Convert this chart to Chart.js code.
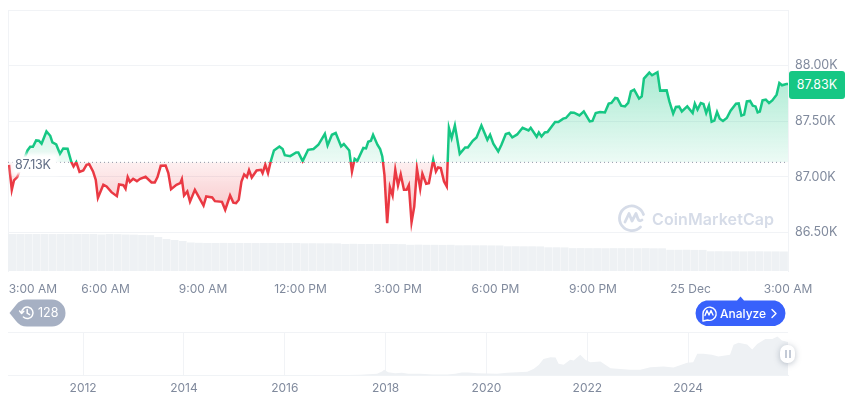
<!DOCTYPE html>
<html>
<head>
<meta charset="utf-8">
<script src="https://cdn.jsdelivr.net/npm/chart.js@4"></script>
<style>
  html, body { margin: 0; padding: 0; background: #fff; }
  body { width: 860px; height: 401px; position: relative; overflow: hidden; font-family: Inter, sans-serif; }
  canvas { position: absolute; left: 0; }
  .abs { position: absolute; white-space: nowrap; }
  #baseLabel { left: 15px; top: 157px; height: 15px; line-height: 15px; padding-right: 4px; font-size: 12.5px; letter-spacing: -0.2px; color: #616e85; background: #fff; box-shadow: 0 0 4px 3px #fff; }
  #lastBadge { left: 789px; top: 71px; width: 56px; height: 28px; line-height: 28px; text-align: center; font-size: 12.5px; color: #fff; background: #16c784; border-radius: 3px; }
  #watermark { left: 652px; top: 208px; font-size: 16px; line-height: 22px; font-weight: 600; letter-spacing: 0.1px; color: #d6dce8; }
  #handle { left: 780px; top: 345px; width: 15px; height: 18px; background: #fff; border-radius: 7px; box-shadow: 0 1px 6px rgba(88,102,126,.4); }
  #handle i { position: absolute; top: 5px; width: 2px; height: 8px; background: #c3cad6; }
</style>
</head>
<body>
<canvas id="mainChart" style="top:0;width:860px;height:300px"></canvas>
<canvas id="navChart" style="top:325px;width:860px;height:76px"></canvas>

<div class="abs" id="baseLabel">87.13K</div>
<div class="abs" id="lastBadge">87.83K</div>

<svg class="abs" style="left:617px;top:203px" width="30" height="30" viewBox="0 0 30 30" fill="none" stroke="#d6dce8" stroke-width="2.8" stroke-linecap="round" stroke-linejoin="round">
  <path d="M26.5 11.5 A12.3 12.3 0 1 0 23.5 24"/>
  <path d="M8 19 L12 10.5 L15 18 L19 10.5 L21 16 Q22.5 19 25 17"/>
</svg>
<div class="abs" id="watermark">CoinMarketCap</div>

<svg class="abs" style="left:8px;top:298px" width="60" height="30" viewBox="0 0 60 30">
  <path d="M1.5 15 L8 7 Q12 1.5 19 1.5 L44 1.5 A13.5 13.5 0 0 1 44 28.5 L19 28.5 Q12 28.5 8 23 Z" fill="#a6b0c3"/>
  <g fill="none" stroke="#fff" stroke-width="1.5" stroke-linecap="round" stroke-linejoin="round">
    <path d="M13.6 15 A5.7 5.7 0 1 1 15.4 19"/>
    <path d="M11.6 13 L13.6 15.4 L15.8 13.2"/>
    <path d="M19.2 11.5 L19.2 15.2 L21.6 16.6"/>
  </g>
  <text x="30" y="19.4" font-family="Inter, sans-serif" font-size="12.5" fill="#fff">128</text>
</svg>

<svg class="abs" style="left:692px;top:295px" width="97" height="32" viewBox="0 0 97 32">
  <path d="M14 5.5 L45 5.5 L48.5 1.5 L52 5.5 L83 5.5 A13 13 0 0 1 83 31 L14 31 A13 13 0 0 1 14 5.5 Z" fill="#3861fb"/>
  <g fill="none" stroke="#fff" stroke-width="1.4" stroke-linecap="round" stroke-linejoin="round">
    <path d="M11 26 L11 18.5 A6.6 6.6 0 1 1 15.5 25 L11 26"/>
    <path d="M13 20.5 L15 15.5 L17 20 L19 15.5 L21 20"/>
    <path d="M80 14.5 L84 18.5 L80 22.5"/>
  </g>
  <text x="28" y="22.8" font-family="Inter, sans-serif" font-size="12" font-weight="500" fill="#fff">Analyze</text>
</svg>

<div class="abs" id="handle"><i style="left:5px"></i><i style="left:9px"></i></div>

<script>
// minutes since 3:00 AM
const priceMinutes = [2,7,11,17,36,41,46,52,57,62,71,78,82,89,96,102,110,117,121,126,132,139,145,150,157,162,166,176,182,191,201,205,213,217,221,225,231,238,244,254,265,271,276,282,291,296,301,311,318,321,325,331,336,345,361,366,377,382,395,401,410,416,421,426,431,436,441,445,450,459,467,470,475,480,485,491,501,507,511,521,532,536,544,554,564,573,585,590,598,605,615,620,630,635,640,645,656,661,665,670,674,682,687,691,695,700,705,710,715,720,725,731,736,740,745,750,755,761,765,772,777,785,790,794,799,805,810,814,819,825,834,844,849,858,865,874,885,890,896,905,911,919,925,931,940,950,961,965,976,980,985,991,996,1010,1016,1025,1030,1039,1045,1055,1063,1074,1079,1085,1093,1102,1109,1114,1121,1125,1132,1139,1145,1150,1156,1165,1170,1174,1184,1189,1199,1204,1216,1221,1228,1233,1239,1244,1254,1264,1268,1273,1279,1284,1289,1294,1299,1304,1309,1314,1320,1327,1334,1344,1349,1354,1359,1364,1370,1375,1380,1384,1388,1393,1399,1405,1411,1419,1424,1429,1437,1440];
const priceValues = [87.108,86.883,86.967,86.997,87.237,87.270,87.270,87.327,87.324,87.297,87.408,87.369,87.309,87.291,87.207,87.255,87.252,87.132,87.093,87.132,87.045,87.057,87.108,87.114,87.048,86.973,86.811,86.928,86.913,86.862,86.826,86.931,86.925,86.892,86.997,86.955,86.982,86.961,86.982,87.000,86.949,86.949,86.997,87.099,87.102,87.033,86.889,86.928,86.943,86.979,86.832,86.868,86.777,86.883,86.741,86.823,86.814,86.781,86.775,86.703,86.832,86.768,86.763,86.793,86.958,87.021,86.997,87.060,86.994,87.057,87.063,87.033,87.108,87.033,87.138,87.237,87.273,87.250,87.195,87.186,87.219,87.219,87.141,87.243,87.250,87.288,87.387,87.282,87.378,87.394,87.273,87.295,87.237,87.048,87.162,87.144,87.259,87.255,87.315,87.324,87.378,87.288,87.250,87.183,87.018,86.583,86.907,86.832,87.063,86.922,87.021,86.883,86.883,86.925,86.592,86.732,87.072,86.892,87.027,86.937,86.943,87.153,87.048,87.084,87.078,86.958,86.913,87.439,87.349,87.462,87.207,87.264,87.264,87.324,87.354,87.462,87.333,87.378,87.297,87.228,87.288,87.385,87.394,87.354,87.381,87.441,87.417,87.441,87.360,87.399,87.363,87.399,87.403,87.493,87.493,87.523,87.529,87.579,87.577,87.552,87.588,87.498,87.502,87.574,87.583,87.579,87.658,87.664,87.709,87.705,87.640,87.633,87.664,87.768,87.784,87.703,87.723,87.883,87.937,87.913,87.940,87.775,87.777,87.678,87.568,87.628,87.631,87.588,87.633,87.574,87.658,87.604,87.664,87.655,87.574,87.640,87.495,87.505,87.583,87.523,87.502,87.529,87.595,87.658,87.660,87.550,87.559,87.678,87.682,87.640,87.633,87.579,87.586,87.687,87.694,87.664,87.687,87.739,87.844,87.823,87.835,87.835];
const basePrice = 87.13;

// one bar per 15 minutes
const volumeValues = [44.4,44.4,44.4,44.4,44.4,44.3,44.4,44.4,44.4,44.4,44.4,43.8,44.4,44.2,43.8,43.6,43.2,43.0,40.8,38.4,37.2,36.0,34.2,33.8,33.6,33.6,33.7,33.6,33.6,33.6,33.5,33.6,33.6,33.5,33.6,33.6,33.2,33.3,33.2,33.2,33.1,32.4,32.6,32.4,32.4,32.3,32.4,32.4,32.2,31.4,31.6,31.4,31.4,31.3,31.4,30.8,30.9,30.8,30.8,30.7,30.6,29.6,29.7,29.6,29.6,29.5,28.4,28.4,28.3,27.4,27.5,27.4,27.4,27.3,27.4,27.4,27.4,27.3,27.4,27.2,27.2,25.4,25.4,25.5,25.3,25.3,23.6,23.7,23.6,23.6,23.5,23.6,23.6,23.5,23.5,23.4];

const priceTicks = [86.5, 87, 87.5, 88, 88.5];
const timeTickMinutes = [46, 180, 360, 540, 720, 900, 1080, 1260, 1440]; // first label sits inside the edge
const timeTickLabels = ["3:00 AM", "6:00 AM", "9:00 AM", "12:00 PM", "3:00 PM", "6:00 PM", "9:00 PM", "25 Dec", "3:00 AM"];

// long range strip: year, price in thousands
const navYears = [2010.51,2012,2014,2015.91,2016.56,2017.24,2017.5,2017.83,2017.93,2017.97,2018.05,2018.19,2018.32,2018.45,2018.69,2018.94,2019.22,2019.38,2019.51,2019.64,2019.81,2020.01,2020.21,2020.41,2020.61,2020.81,2020.94,2021.04,2021.13,2021.27,2021.37,2021.43,2021.53,2021.66,2021.73,2021.86,2021.96,2022.06,2022.26,2022.46,2022.59,2022.85,2023.05,2023.25,2023.51,2023.71,2023.98,2024.10,2024.18,2024.30,2024.47,2024.60,2024.83,2024.90,2025.00,2025.17,2025.27,2025.37,2025.53,2025.67,2025.77,2025.86,2025.98];
const navPrices = [0,0.01,0.8,0.4,0.6,1.5,2.1,5.3,12.8,18.1,10.7,7.5,8.5,5.3,5.3,3,3,5.3,9.6,9.6,7.5,6.4,5.3,8.5,10.7,11.7,21.3,34,53,58.7,57.6,37.3,34,50,48,66,50,42.7,44.8,23.5,21.3,18.1,18.1,26.7,28.8,25.6,40.5,42.7,69.3,69.3,66,60.8,66,98,104.5,99,83,101,117,117,124.8,112,106.7];
const navTickYears = [2012, 2014, 2016, 2018, 2020, 2022, 2024];

const GREEN = "#16c784";
const RED = "#ea3943";
const GRID = "#f1f3f6";
const TEXT = "#808a9d";
Chart.defaults.font.family = "Inter, sans-serif";
Chart.defaults.font.size = 12.5;
Chart.defaults.color = TEXT;

// labels may hang over the plot edges without pushing the plot in
function noPadding(s) {
  s.paddingLeft = s.paddingRight = s.paddingTop = s.paddingBottom = 0;
}

function basePos(chart) {
  const a = chart.chartArea;
  return (chart.scales.y.getPixelForValue(basePrice) - a.top) / (a.bottom - a.top);
}

function lineStroke(c) {
  const chart = c.chart;
  if (!chart.chartArea) return GREEN;
  const a = chart.chartArea;
  const g = chart.ctx.createLinearGradient(0, a.top, 0, a.bottom);
  const p = basePos(chart);
  g.addColorStop(0, GREEN);
  g.addColorStop(p, GREEN);
  g.addColorStop(p, RED);
  g.addColorStop(1, RED);
  return g;
}

function areaFill(c) {
  const chart = c.chart;
  if (!chart.chartArea) return { target: { value: basePrice }, above: "transparent", below: "transparent" };
  const y = chart.scales.y;
  const base = y.getPixelForValue(basePrice);
  const up = chart.ctx.createLinearGradient(0, y.getPixelForValue(Math.max(...priceValues)), 0, base);
  up.addColorStop(0, "rgba(22,199,132,.36)");
  up.addColorStop(1, "rgba(22,199,132,.08)");
  const down = chart.ctx.createLinearGradient(0, base, 0, y.getPixelForValue(Math.min(...priceValues)));
  down.addColorStop(0, "rgba(234,57,67,.08)");
  down.addColorStop(1, "rgba(234,57,67,.32)");
  return { target: { value: basePrice }, above: up, below: down };
}

new Chart(document.getElementById("mainChart"), {
  type: "line",
  data: {
    datasets: [
      {
        data: priceMinutes.map((m, i) => ({ x: m, y: priceValues[i] })),
        borderColor: lineStroke,
        borderWidth: 2.5,
        pointRadius: 0,
        tension: 0,
        fill: areaFill,
        order: 1,
      },
      {
        data: [{ x: 0, y: basePrice }, { x: 1440, y: basePrice }],
        borderColor: "#8f99ab",
        borderWidth: 1,
        borderDash: [1, 3],
        pointRadius: 0,
        fill: false,
        order: 2,
      },
      {
        type: "bar",
        yAxisID: "yVol",
        data: volumeValues.map((v, i) => ({ x: 7.5 + 15 * i, y: v })),
        backgroundColor: "#eef1f4",
        barPercentage: 0.96,
        categoryPercentage: 1,
        order: 3,
      },
    ],
  },
  options: {
    responsive: false,
    animation: false,
    layout: { padding: { left: 8, top: 10, right: 0, bottom: 0 } },
    plugins: { legend: { display: false }, tooltip: { enabled: false } },
    scales: {
      x: {
        type: "linear",
        min: 0,
        max: 1440,
        offset: false, // the bar dataset would switch this on
        grid: { display: false },
        border: { display: false },
        afterBuildTicks: (s) => { s.ticks = timeTickMinutes.map((v) => ({ value: v })); },
        afterFit: (s) => { s.height = 29; noPadding(s); },
        ticks: {
          autoSkip: false,
          maxRotation: 0,
          padding: 3,
          font: { size: 12 },
          callback: (v) => timeTickLabels[timeTickMinutes.indexOf(v)],
        },
      },
      y: {
        position: "right",
        min: 86.153,
        max: 88.5,
        grid: { color: GRID, drawTicks: false },
        border: { color: GRID },
        afterBuildTicks: (s) => { s.ticks = priceTicks.map((v) => ({ value: v })); },
        afterFit: (s) => { s.width = 72; noPadding(s); },
        ticks: {
          padding: 7,
          callback: (v) => (v === 88.5 ? "" : v.toFixed(2) + "K"),
        },
      },
      yVol: {
        position: "left",
        min: 0,
        max: 313,
        grid: { display: false },
        border: { color: GRID },
        ticks: { display: false },
        afterFit: (s) => { s.width = 0; noPadding(s); },
      },
    },
  },
});

new Chart(document.getElementById("navChart"), {
  type: "line",
  data: {
    datasets: [
      {
        data: navYears.map((yr, i) => ({ x: yr, y: navPrices[i] })),
        borderWidth: 0,
        pointRadius: 0,
        tension: 0,
        fill: "origin",
        backgroundColor: "#eef1f4",
      },
    ],
  },
  options: {
    responsive: false,
    animation: false,
    layout: { padding: { left: 8, top: 7, right: 72, bottom: 0 } },
    plugins: { legend: { display: false }, tooltip: { enabled: false } },
    scales: {
      x: {
        type: "linear",
        min: 2010.51,
        max: 2025.98,
        grid: { color: GRID, drawTicks: false },
        border: { color: GRID },
        afterBuildTicks: (s) => { s.ticks = navTickYears.map((v) => ({ value: v })); },
        afterFit: (s) => { s.height = 25.5; noPadding(s); },
        ticks: { autoSkip: false, maxRotation: 0, padding: 6, font: { size: 12 }, callback: (v) => String(v) },
      },
      y: {
        min: 0,
        max: 139,
        display: true,
        grid: { color: GRID, drawTicks: false },
        border: { display: false },
        afterBuildTicks: (s) => { s.ticks = [{ value: 0 }, { value: 139 }]; },
        ticks: { display: false },
        afterFit: (s) => { s.width = 0; noPadding(s); },
      },
    },
  },
});
</script>
</body>
</html>
